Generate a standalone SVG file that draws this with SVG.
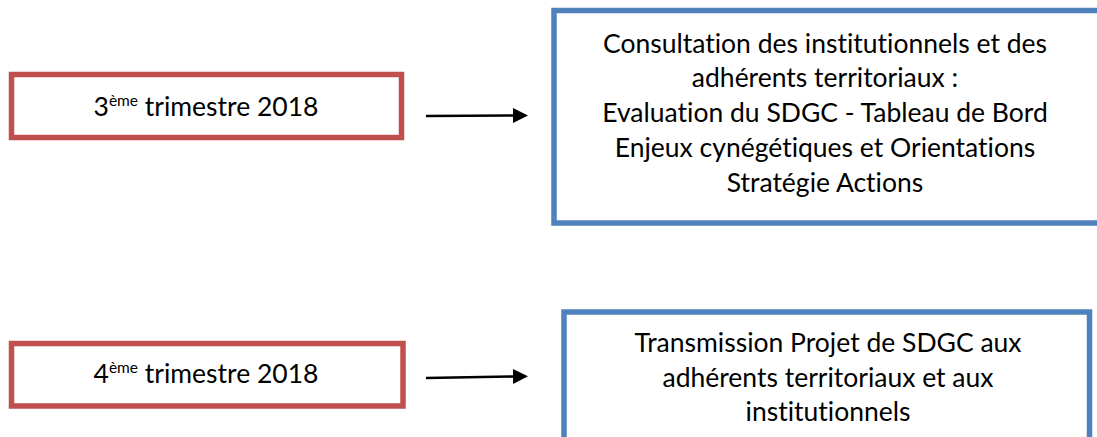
<svg xmlns="http://www.w3.org/2000/svg" width="1097" height="437" viewBox="0 0 1097 437">
<style>
.red{fill:#fff;stroke:#C0504D;stroke-width:5.5}
.blue{fill:#fff;stroke:#4F81BD;stroke-width:5.5}
.t{font-family:Lato,"Open Sans","Liberation Sans",sans-serif;font-size:26.5px;fill:#000;text-anchor:middle;font-variant-ligatures:none}
.sup{font-size:15.5px}
.ln{stroke:#000;stroke-width:2.6;fill:none}
</style>
<defs>
<marker id="ah" markerWidth="15" markerHeight="15" refX="0" refY="7.5" orient="auto" markerUnits="userSpaceOnUse">
<polygon points="0,0 15,7.5 0,15" fill="#000"/>
</marker>
</defs>
<rect width="1097" height="437" fill="#fff"/>
<g id="node-q3">
<rect class="red" x="11.5" y="74.5" width="390" height="63"/>
<text class="t" x="206" y="116">3<tspan class="sup" dy="-10">ème</tspan><tspan dy="10"> trimestre 2018</tspan></text>
</g>
<g id="node-consultation">
<rect class="blue" x="554" y="10.5" width="560" height="212.5"/>
<text class="t" x="825" y="52.5">Consultation des institutionnels et des</text>
<text class="t" x="825" y="87.3">adhérents territoriaux :</text>
<text class="t" x="825" y="122">Evaluation du SDGC - Tableau de Bord</text>
<text class="t" x="825" y="156.8">Enjeux cynégétiques et Orientations</text>
<text class="t" x="825" y="191.6">Stratégie Actions</text>
</g>
<g id="node-q4">
<rect class="red" x="11.5" y="343.5" width="391.5" height="62.5"/>
<text class="t" x="206" y="383">4<tspan class="sup" dy="-10">ème</tspan><tspan dy="10"> trimestre 2018</tspan></text>
</g>
<g id="node-transmission">
<rect class="blue" x="564" y="312" width="525.5" height="130"/>
<text class="t" x="828" y="352.3">Transmission Projet de SDGC aux</text>
<text class="t" x="828" y="387">adhérents territoriaux et aux</text>
<text class="t" x="828" y="421">institutionnels</text>
</g>
<g id="connectors">
<line class="ln" x1="426" y1="116" x2="513" y2="115.5" marker-end="url(#ah)"/>
<line class="ln" x1="426" y1="378" x2="513" y2="376.5" marker-end="url(#ah)"/>
</g>
</svg>
